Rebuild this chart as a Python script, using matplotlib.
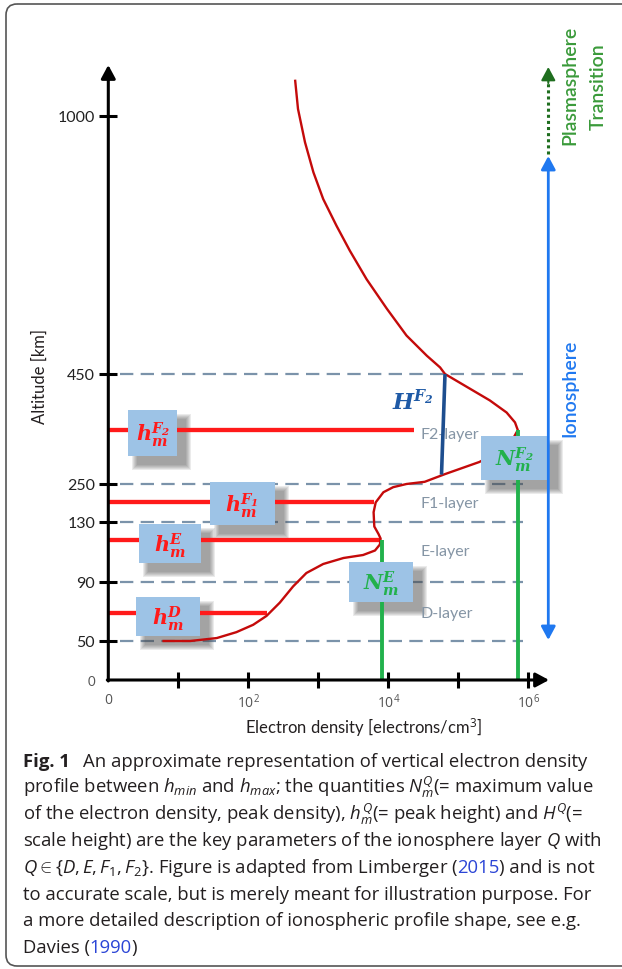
"""Vertical electron density profile of the ionosphere (illustration, not to scale)."""

import numpy as np
import matplotlib
matplotlib.use("Agg")
from matplotlib import pyplot as plt
from matplotlib import transforms as mtransforms
from matplotlib.lines import Line2D
from matplotlib.patches import FancyArrowPatch, FancyBboxPatch, Rectangle

W, H = 622, 970
FONT = "Lato"
CAP_FONT = "Open Sans"

plt.rcParams["font.family"] = [FONT, "DejaVu Sans"]
plt.rcParams["mathtext.fontset"] = "custom"
plt.rcParams["mathtext.rm"] = CAP_FONT
plt.rcParams["mathtext.it"] = CAP_FONT + ":italic"
plt.rcParams["mathtext.bf"] = CAP_FONT + ":bold"

# The altitude axis is deliberately not to scale: each tick altitude sits at
# a fixed height (pixels above the density axis).
ALT_ANCHOR = [-100, 0, 50, 90, 130, 250, 450, 1000, 3000]
PX_ANCHOR = [-78, 0, 39, 98, 158, 196, 306, 564, 1502]

alt_ticks = [0, 50, 90, 130, 250, 450, 1000]
dens_ticks = [0, 1, 2, 3, 4, 5, 6]  # log10 electron density
dens_ticklabels = ["0", "", "$10^2$", "", "$10^4$", "", "$10^6$"]

# profile: log10(Ne [el/cm3]) against altitude [km]
profile_log_ne = [0.79, 1.17, 1.55, 1.83, 2.07, 2.26, 2.45, 2.64, 2.83, 3.07,
                  3.36, 3.64, 3.81, 3.88, 3.89, 3.86, 3.80, 3.79, 3.82, 3.93,
                  4.07, 4.26, 4.52, 4.81, 5.30, 5.67, 5.78, 5.85, 5.81, 5.69,
                  5.45, 5.17, 4.81, 4.74, 4.55, 4.26, 3.98, 3.69, 3.45, 3.26,
                  3.07, 2.93, 2.81, 2.71, 2.67]
profile_alt = [50, 50, 52, 56, 61, 67, 76, 87, 96, 102,
               106, 108, 111, 115, 119, 122, 127, 161, 192, 224,
               240, 250, 254, 268, 290, 314, 332, 348, 362, 380,
               402, 423, 450, 464, 489, 532, 589, 652, 713, 766,
               823, 880, 944, 1015, 1075]

layers = ["D", "E", "F1", "F2"]
peak_alt = [69, 118, 192, 348]            # h_m of each layer
peak_line_end = [2.26, 3.88, 3.80, 4.36]  # where the h_m marker line stops
boundary_alt = [50, 90, 130, 250, 450]

peak_dens_layers = ["E", "F2"]
peak_log_ne = [3.91, 5.85]
peak_dens_alt = [118, 348]

scale_height_log_ne = [4.81, 4.76]   # H^F2 segment
scale_height_alt = [450, 267]

RED = "#ff1a1a"
DARKRED = "#c40a0a"
GREEN = "#22b14c"
BOX = "#9dc3e6"
GRAYBLUE = "#7b93aa"
BLUE = "#1f78f0"
NAVY = "#1d4e8f"
TXT = "#231f20"

fig = plt.figure(figsize=(W / 100, H / 100), dpi=100)
# image-pixel coordinates (origin top-left) for annotations
px = mtransforms.Affine2D().scale(1 / W, -1 / H).translate(0, 1) + fig.transFigure

X0, Y0 = 108.3, 681.0      # origin of the diagram
DEC = 70.0                 # pixels per decade of density
XR, YT = 560.0, 60.0       # right / top of the axes box
ax = fig.add_axes([X0 / W, 1 - Y0 / H, (XR - X0) / W, (Y0 - YT) / H])


def fwd(a):
    return np.interp(a, ALT_ANCHOR, PX_ANCHOR)


def inv(p):
    return np.interp(p, PX_ANCHOR, ALT_ANCHOR)


ax.set_yscale("function", functions=(fwd, inv))
ax.set_xlim(0, (XR - X0) / DEC)
ax.set_ylim(0, inv(Y0 - YT))
ax.patch.set_alpha(0)
for s in ax.spines.values():
    s.set_visible(False)

ax.set_yticks(alt_ticks, [str(a) for a in alt_ticks])
ax.set_xticks(dens_ticks, dens_ticklabels)
ax.minorticks_off()
ax.tick_params(axis="y", direction="inout", length=13, width=2.2, pad=3.0,
               labelsize=11.5, labelcolor="#222")
ax.tick_params(axis="x", direction="inout", length=12, width=2.2, pad=3.0,
               labelsize=10, labelcolor="#555")
for lab in ax.get_xticklabels():
    lab.set_family("Open Sans")
t0 = ax.yaxis.get_major_ticks()[0]
t0.tick1line.set_visible(False)
t0.label1.set_fontsize(9.5)
t0.label1.set_color("#555")
ax.xaxis.get_major_ticks()[0].tick1line.set_visible(False)

ax.set_ylabel("Altitude [km]", fontsize=12, color=TXT)
ax.yaxis.set_label_coords(40, 377, transform=px)
ax.yaxis.label.set_va("center")
ax.set_xlabel("Electron density [electrons/cm$^3$]", fontsize=12, color=TXT)
ax.xaxis.set_label_coords(363, 728, transform=px)
ax.xaxis.label.set_va("center")

# layer boundaries
ax.hlines(boundary_alt, 0.167, 5.93, colors=GRAYBLUE, lw=1.6,
          linestyles=(0, (6, 3.3)), zorder=1)

# peak heights
ax.hlines(peak_alt, 0, peak_line_end, colors=RED, lw=3.1, zorder=3)

# profile
ax.plot(profile_log_ne, profile_alt, color=DARKRED, lw=1.7, zorder=3,
        solid_joinstyle="round")

# peak densities
ax.vlines(peak_log_ne, 0, peak_dens_alt, colors=GREEN, lw=2.8, zorder=3)

# scale height
ax.plot(scale_height_log_ne, scale_height_alt, color=NAVY, lw=2.6,
        solid_capstyle="butt", zorder=3.5)


def arrow(p0, p1, color, lw, style="-|>", hl=0.8, hw=0.43, z=6, ls="-"):
    a = FancyArrowPatch(p0, p1, transform=px, color=color, lw=lw,
                        arrowstyle=f"{style},head_length={hl},head_width={hw}",
                        mutation_scale=10, shrinkA=0, shrinkB=0, zorder=z,
                        linestyle=ls, clip_on=False)
    ax.add_patch(a)


# axes with arrow heads
arrow((X0, Y0 + 1), (X0, 66), "black", 2.2)
arrow((X0 - 1, Y0), (549, Y0), "black", 2.2)

# label boxes with a soft drop shadow
boxes = [
    (r"$\mathbfit{h_m^{F_2}}$", 128.3, 411.0, 177.3, 456.7, RED),
    (r"$\mathbfit{h_m^{F_1}}$", 209.5, 483.3, 274.6, 525.7, RED),
    (r"$\mathbfit{h_m^{E}}$", 138.5, 525.0, 200.5, 564.0, RED),
    (r"$\mathbfit{h_m^{D}}$", 136.0, 598.3, 200.0, 637.3, RED),
    (r"$\mathbfit{N_m^{E}}$", 348.6, 563.3, 413.3, 602.7, GREEN),
    (r"$\mathbfit{N_m^{F_2}}$", 480.7, 437.3, 549.0, 480.7, GREEN),
]
for label, x0, y0, x1, y1, col in boxes:
    for k in range(5, -1, -1):
        ax.add_patch(Rectangle((x0 + 9 - k, y0 + 9 - k), x1 - x0 + 2 * k,
                               y1 - y0 + 2 * k, transform=px, facecolor="#444",
                               edgecolor="none", alpha=0.1, zorder=2,
                               clip_on=False))
    ax.add_patch(Rectangle((x0, y0), x1 - x0, y1 - y0, transform=px,
                           facecolor=BOX, edgecolor="none", zorder=4,
                           clip_on=False))
    ax.text((x0 + x1) / 2, (y0 + y1) / 2 + 1, label, transform=px,
            ha="center", va="center", fontsize=15, color=col,
            math_fontfamily="dejavuserif", zorder=5)

ax.text(413, 402, r"$\mathbfit{H^{F_2}}$", transform=px, ha="center",
        va="center", fontsize=16, color="#1f5aa6",
        math_fontfamily="dejavuserif", zorder=5)

for name, y in zip(["F2-layer", "F1-layer", "E-layer", "D-layer"],
                   [435, 504, 552, 614]):
    ax.text(421, y, name, transform=px, ha="left", va="center",
            fontsize=11.5, color="#8595a5", zorder=3.2)

# right-hand regions
arrow((548.3, 157), (548.3, 641), BLUE, 2.0, style="<|-|>", z=6)
ax.add_line(Line2D([548.3, 548.3], [155, 80], transform=px, color="#1f6e1f",
                   lw=2.2, linestyle=(0, (1, 1)), zorder=6, clip_on=False))
arrow((548.3, 84), (548.3, 68), "#1f6e1f", 1.5, z=6)
ax.text(570, 85, "Plasmasphere", transform=px, rotation=90, ha="center",
        va="center", fontsize=14, color="#3a9a3a", weight="semibold")
ax.text(598, 87, "Transition", transform=px, rotation=90, ha="center",
        va="center", fontsize=14, color="#3a9a3a", weight="semibold")
ax.text(570, 388, "Ionosphere", transform=px, rotation=90, ha="center",
        va="center", fontsize=14, color=BLUE, weight="semibold")

# caption frame
fig.add_artist(FancyBboxPatch((6, 5), 660, 962, transform=px,
                              boxstyle="round,pad=0,rounding_size=11",
                              facecolor="none", edgecolor="#555", lw=1.2))

LINK = "#2b45d6"
CAP = 13.3
renderer = fig.canvas.get_renderer()


def rich_line(x, y, parts):
    for s, color in parts:
        t = fig.text(x, y, s, transform=px, fontsize=CAP, color=color,
                     va="baseline", ha="left", family=CAP_FONT)
        x += t.get_window_extent(renderer).width - 0.5


caption = [
    None,
    [("profile between $h_{min}$ and $h_{max}$; the quantities $N_m^Q$(= maximum value", TXT)],
    [("of the electron density, peak density), $h_m^Q$(= peak height) and $H^Q$(=", TXT)],
    [("scale height) are the key parameters of the ionosphere layer $Q$ with", TXT)],
    [(r"$Q \in \{D, E, F_1, F_2\}$. Figure is adapted from Limberger (", TXT),
     ("2015", LINK), (") and is not", TXT)],
    [("to accurate scale, but is merely meant for illustration purpose. For", TXT)],
    [("a more detailed description of ionospheric profile shape, see e.g.", TXT)],
    [("Davies (", TXT), ("1990", LINK), (")", TXT)],
]
BASE, STEP = 766.7, 26.6
fig.text(22.7, BASE, "Fig. 1", transform=px, fontsize=CAP, weight="bold",
         color=TXT, va="baseline", family=CAP_FONT)
fig.text(83.3, BASE, "An approximate representation of vertical electron density",
         transform=px, fontsize=CAP, color=TXT, va="baseline", family=CAP_FONT)
for i, parts in enumerate(caption):
    if parts:
        rich_line(22.7, BASE + STEP * i, parts)

fig.savefig("out.png", dpi=100)
